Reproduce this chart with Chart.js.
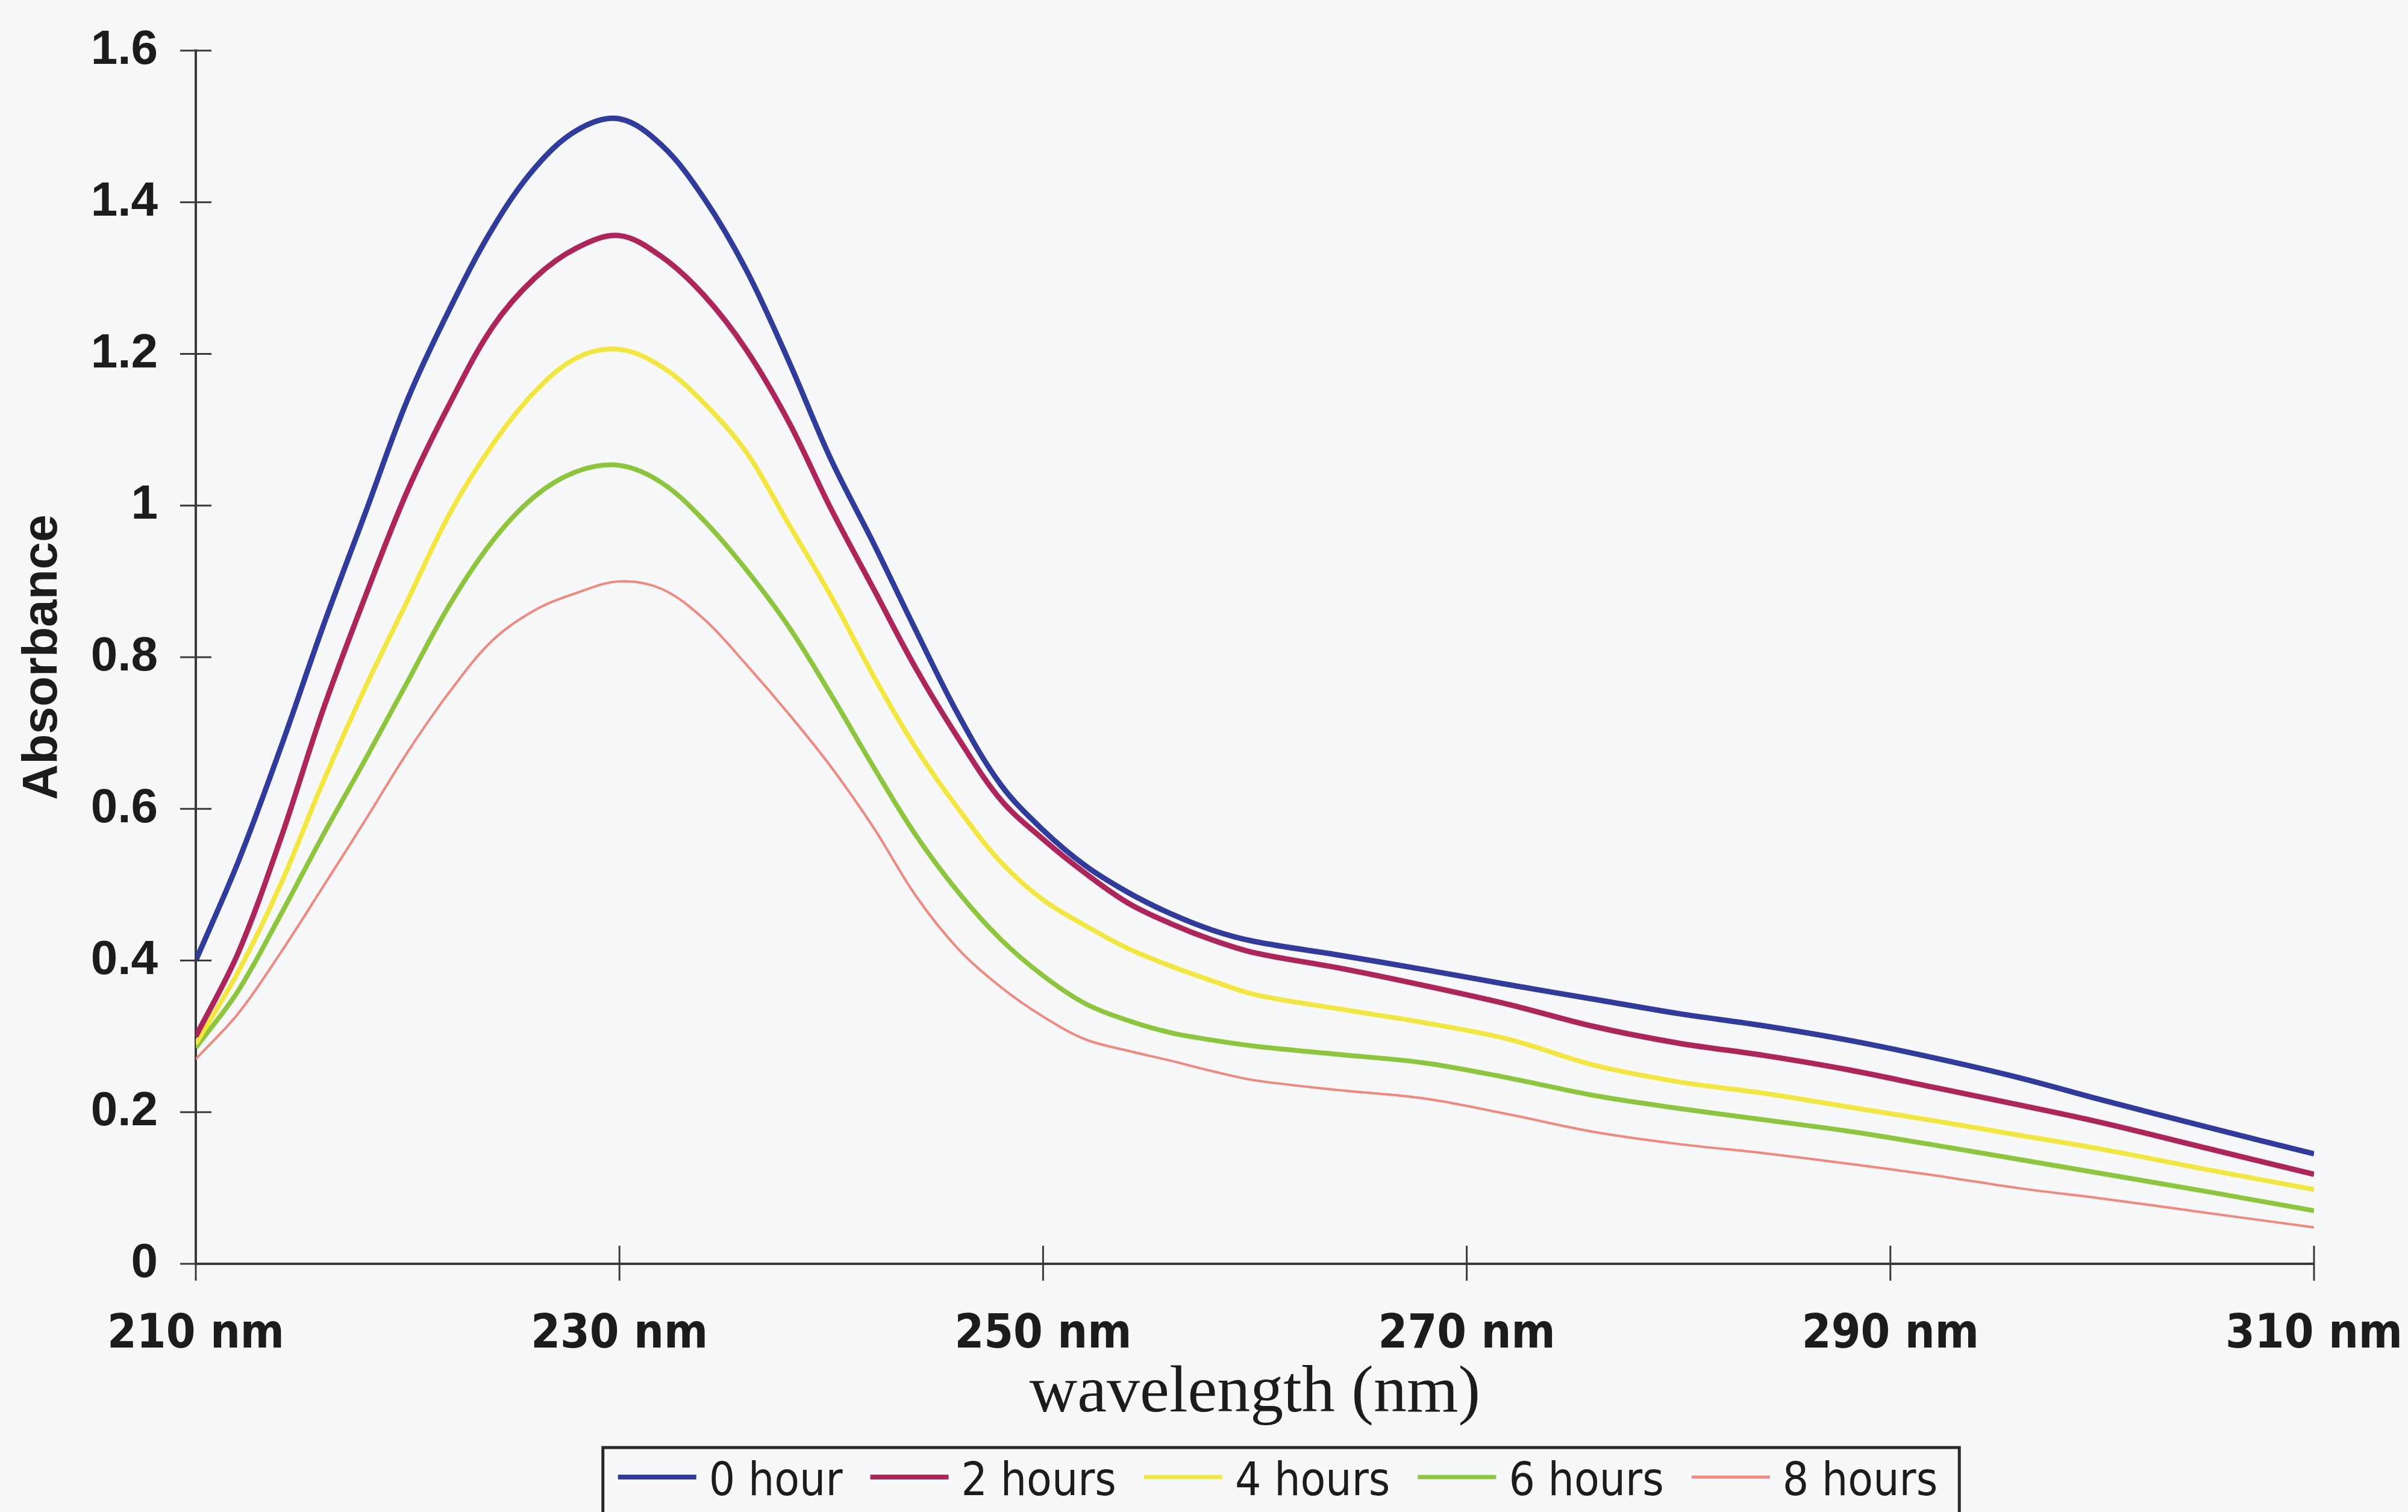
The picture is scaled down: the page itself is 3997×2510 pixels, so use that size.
<!DOCTYPE html>
<html>
<head>
<meta charset="utf-8">
<title>Absorbance spectra</title>
<script src="https://cdn.jsdelivr.net/npm/chart.js@4.4.1/dist/chart.umd.min.js"></script>
<style>
  html, body { margin: 0; padding: 0; background: #f7f8fa; }
  #wrap { width: 3997px; height: 2510px; position: relative; }
</style>
</head>
<body>
<div id="wrap"><canvas id="myChart"></canvas></div>
<script>
// wavelength (nm) sampled along the spectra
const wavelengths = [210, 212, 214, 216, 218, 220, 222, 224, 226, 228, 230, 232, 234, 236, 238, 240,
  242, 244, 246, 248, 250, 252, 254, 256, 258, 260, 264, 268, 272, 276, 280, 284, 288, 292, 296, 300, 305, 310];

// absorbance per time point
const hour0 = [0.40, 0.53, 0.68, 0.84, 0.99, 1.14, 1.26, 1.365, 1.445, 1.495, 1.51, 1.475, 1.405, 1.31, 1.19, 1.06,
  0.95, 0.835, 0.724, 0.632, 0.572, 0.525, 0.49, 0.462, 0.44, 0.425, 0.407, 0.388, 0.368, 0.349, 0.33, 0.314, 0.295, 0.272, 0.246, 0.216, 0.18, 0.145];
const hour2 = [0.30, 0.41, 0.56, 0.73, 0.88, 1.02, 1.135, 1.235, 1.30, 1.34, 1.356, 1.328, 1.277, 1.205, 1.11, 0.995,
  0.89, 0.785, 0.693, 0.612, 0.56, 0.515, 0.476, 0.449, 0.427, 0.41, 0.39, 0.367, 0.342, 0.313, 0.291, 0.275, 0.256, 0.233, 0.21, 0.186, 0.152, 0.118];
const hour4 = [0.29, 0.385, 0.50, 0.635, 0.76, 0.875, 0.99, 1.08, 1.15, 1.195, 1.206, 1.183, 1.135, 1.07, 0.975, 0.88,
  0.775, 0.68, 0.60, 0.53, 0.48, 0.446, 0.416, 0.393, 0.373, 0.355, 0.336, 0.318, 0.296, 0.262, 0.24, 0.225, 0.207, 0.189, 0.17, 0.151, 0.124, 0.098];
const hour6 = [0.285, 0.36, 0.46, 0.565, 0.665, 0.768, 0.87, 0.953, 1.012, 1.045, 1.053, 1.03, 0.98, 0.915, 0.84, 0.75,
  0.655, 0.565, 0.49, 0.428, 0.38, 0.343, 0.321, 0.305, 0.295, 0.287, 0.276, 0.265, 0.245, 0.222, 0.205, 0.19, 0.175, 0.157, 0.138, 0.119, 0.095, 0.07];
const hour8 = [0.27, 0.33, 0.41, 0.497, 0.585, 0.675, 0.755, 0.822, 0.862, 0.885, 0.90, 0.89, 0.85, 0.79, 0.725, 0.655,
  0.575, 0.485, 0.415, 0.365, 0.326, 0.296, 0.281, 0.268, 0.254, 0.242, 0.229, 0.218, 0.197, 0.174, 0.158, 0.146, 0.132, 0.117, 0.10, 0.086, 0.067, 0.048];

const seriesNames = ['0 hour', '2 hours', '4 hours', '6 hours', '8 hours'];
const seriesColors = ['#2f3c9e', '#b0245c', '#f3e63c', '#8cc63a', '#f4877a'];
const seriesWidths = [9, 9, 8, 8, 4];

const xTickLabels = ['210 nm', '230 nm', '250 nm', '270 nm', '290 nm', '310 nm'];
const yTickLabels = ['0', '0.2', '0.4', '0.6', '0.8', '1', '1.2', '1.4', '1.6'];

const narrow = '"Liberation Sans Narrow", "Arial Narrow", "DejaVu Sans Condensed", sans-serif';
const ink = '#1c1c1c';
const axisInk = '#3a3a3a';

const seriesValues = [hour0, hour2, hour4, hour6, hour8];

// ticks that cross the axis lines on both sides
const crossTicks = {
  id: 'crossTicks',
  afterDraw(chart) {
    const { ctx, chartArea, scales: { x, y } } = chart;
    ctx.save();
    ctx.strokeStyle = axisInk;
    ctx.lineWidth = 3;
    ctx.beginPath();
    y.ticks.forEach(t => {
      const py = y.getPixelForValue(t.value);
      ctx.moveTo(chartArea.left - 26, py);
      ctx.lineTo(chartArea.left + 26, py);
    });
    x.ticks.forEach(t => {
      const px = x.getPixelForValue(t.value);
      ctx.moveTo(px, chartArea.bottom - 30);
      ctx.lineTo(px, chartArea.bottom + 28);
    });
    ctx.stroke();
    ctx.restore();
  }
};

// framed legend row under the axis title
const boxLegend = {
  id: 'boxLegend',
  afterDraw(chart) {
    const ctx = chart.ctx;
    const lineLen = 130, gapText = 21, gapItem = 46;
    ctx.save();
    ctx.font = '76px ' + narrow;
    const items = chart.data.datasets.map(ds => ({
      label: ds.label, color: ds.borderColor, lw: ds.borderWidth,
      w: ctx.measureText(ds.label).width
    }));
    const total = items.reduce((s, it) => s + lineLen + gapText + it.w, 0) + gapItem * (items.length - 1);
    let xPos = 2121 - total / 2;
    const lineY = 2452, textY = 2462;

    ctx.strokeStyle = '#2a2a2a';
    ctx.lineWidth = 5;
    ctx.strokeRect(xPos - 25, 2403, total + 61, 150);

    items.forEach(it => {
      ctx.strokeStyle = it.color;
      ctx.lineWidth = Math.max(it.lw - 1, 5);
      ctx.beginPath();
      ctx.moveTo(xPos, lineY);
      ctx.lineTo(xPos + lineLen, lineY);
      ctx.stroke();
      ctx.fillStyle = ink;
      ctx.textBaseline = 'middle';
      ctx.textAlign = 'left';
      ctx.fillText(it.label, xPos + lineLen + gapText, textY);
      xPos += lineLen + gapText + it.w + gapItem;
    });
    ctx.restore();
  }
};

const ctx = document.getElementById('myChart');

new Chart(ctx, {
  type: 'line',
  data: {
    datasets: seriesNames.map((name, i) => ({
      label: name,
      data: wavelengths.map((w, j) => ({ x: w, y: seriesValues[i][j] })),
      borderColor: seriesColors[i],
      backgroundColor: seriesColors[i],
      borderWidth: seriesWidths[i],
      pointRadius: 0,
      tension: 0.35,
      fill: false
    }))
  },
  options: {
    responsive: true,
    maintainAspectRatio: false,
    animation: false,
    layout: { padding: { top: 84, right: 156, left: 0, bottom: 109 } },
    plugins: {
      legend: { display: false },
      tooltip: { enabled: false }
    },
    scales: {
      x: {
        type: 'linear',
        min: 210,
        max: 310,
        afterBuildTicks: scale => { scale.ticks = xTickLabels.map(t => ({ value: parseInt(t) })); },
        afterFit: scale => {
          scale.height = 303;
          scale.paddingLeft = 0;
          scale.paddingRight = 0;
        },
        ticks: {
          callback: (v, i) => xTickLabels[i],
          color: ink,
          padding: 72,
          maxRotation: 0,
          font: { family: narrow, size: 78, weight: 'bold' }
        },
        grid: { display: true, drawOnChartArea: false, drawTicks: false },
        border: { display: true, color: axisInk, width: 4 },
        title: {
          display: true,
          text: 'wavelength (nm)',
          color: ink,
          font: { family: '"Liberation Serif", "Times New Roman", serif', size: 110, lineHeight: 1 },
          padding: { top: 0, bottom: 32 }
        }
      },
      y: {
        min: 0,
        max: 1.6,
        afterBuildTicks: scale => { scale.ticks = yTickLabels.map(t => ({ value: parseFloat(t) })); },
        afterFit: scale => {
          scale.width = 325;
          scale.paddingTop = 0;
          scale.paddingBottom = 0;
        },
        ticks: {
          callback: (v, i) => yTickLabels[i],
          color: ink,
          padding: 63,
          font: { family: '"Liberation Sans", Arial, sans-serif', size: 80, weight: 'bold' }
        },
        grid: { display: true, drawOnChartArea: false, drawTicks: false },
        border: { display: true, color: axisInk, width: 4 },
        title: {
          display: true,
          text: 'Absorbance',
          color: ink,
          font: { family: '"Liberation Sans", Arial, sans-serif', size: 82, weight: 'bold', lineHeight: 1 },
          padding: { top: 30, bottom: 0 }
        }
      }
    }
  },
  plugins: [crossTicks, boxLegend]
});
</script>
</body>
</html>
